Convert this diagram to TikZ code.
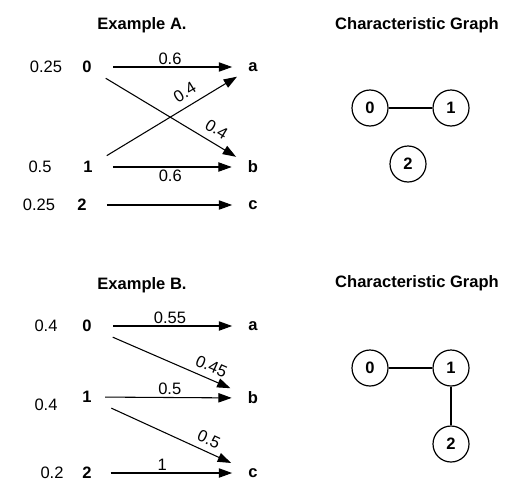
\documentclass[tikz,border=0pt]{standalone}
\usepackage{fontspec}
\setmainfont{Liberation Sans}
\usetikzlibrary{arrows.meta}
\begin{document}
\begin{tikzpicture}[
    x=0.75pt,
    y=-0.75pt,
    font=\fontsize{12.4}{14}\selectfont,
    >={Triangle[length=10pt,width=7pt]},
    titulo/.style={font=\fontsize{12.4}{14}\selectfont\bfseries},
    simb/.style={font=\fontsize{12.4}{14}\selectfont\bfseries,inner sep=1pt},
    prob/.style={inner sep=1pt},
    canal/.style={->,line width=0.8pt,shorten <=14pt,shorten >=11pt},
    peso/.style={inner sep=1.5pt},
    vert/.style={circle,draw,line width=0.9pt,minimum size=27pt,inner sep=0pt,
        font=\fontsize{12.4}{14}\selectfont\bfseries},
    arista/.style={line width=0.8pt}
]
    \useasboundingbox (0,0) rectangle (520,496);

    % Ejemplo A
    \node[titulo] (tA) at (142,25) {Example A.};
    \node[prob] (pA0) at (46,67) {0.25};
    \node[prob] (pA1) at (40,167) {0.5};
    \node[prob] (pA2) at (39,205) {0.25};
    \node[simb] (xA0) at (87,67) {0};
    \node[simb] (xA1) at (88,167) {1};
    \node[simb] (xA2) at (82,205) {2};
    \node[simb] (yAa) at (253,67) {a};
    \node[simb] (yAb) at (253,167) {b};
    \node[simb] (yAc) at (253,205) {c};
    \draw[canal,shorten <=15pt] (xA0.east) -- node[peso,above] {0.6} (yAa.west);
    \draw[canal,shorten <=11pt,shorten >=9pt] (xA0) --
        node[peso,sloped,above=4pt,pos=0.76] {0.4} (yAb);
    \draw[canal,shorten <=11pt,shorten >=8.6pt] (xA1) --
        node[peso,sloped,above=4pt,pos=0.64] {0.4} (yAa);
    \draw[canal] (xA1.east) -- node[peso,below] {0.6} (yAb.west);
    \draw[canal] (xA2.east) -- (yAc.west);

    \node[titulo] (gtA) at (417,25) {Characteristic Graph};
    \node[vert] (gA0) at (370,108) {0};
    \node[vert] (gA1) at (451,108) {1};
    \node[vert] (gA2) at (408,164) {2};
    \draw[arista] (gA0) -- (gA1);

    % Ejemplo B
    \node[titulo] (tB) at (142,285) {Example B.};
    \node[prob] (pB0) at (46,326) {0.4};
    \node[prob] (pB1) at (46,405) {0.4};
    \node[prob] (pB2) at (52,473) {0.2};
    \node[simb] (xB0) at (87,326) {0};
    \node[simb] (xB1) at (87,397) {1};
    \node[simb] (xB2) at (87,473) {2};
    \node[simb] (yBa) at (253,326) {a};
    \node[simb] (yBb) at (253,398) {b};
    \node[simb] (yBc) at (253,473) {c};
    \draw[canal,shorten <=15pt] (xB0.east) -- node[peso,above] {0.55} (yBa.west);
    \draw[canal,shorten <=16pt,shorten >=13pt] (xB0) --
        node[peso,sloped,above=3pt,pos=0.74] {0.45} (yBb);
    \draw[canal,shorten <=9pt] (xB1.east) -- node[peso,above] {0.5} (yBb.west);
    \draw[canal,shorten <=15pt,shorten >=13pt] (xB1) --
        node[peso,sloped,above=3pt,pos=0.72] {0.5} (yBc);
    \draw[canal,shorten <=13pt] (xB2.east) -- node[peso,above,pos=0.45] {1} (yBc.west);

    \node[titulo] (gtB) at (417,283) {Characteristic Graph};
    \node[vert] (gB0) at (370,368) {0};
    \node[vert] (gB1) at (451,368) {1};
    \node[vert] (gB2) at (451,444) {2};
    \draw[arista] (gB0) -- (gB1);
    \draw[arista] (gB1) -- (gB2);
\end{tikzpicture}
\end{document}
